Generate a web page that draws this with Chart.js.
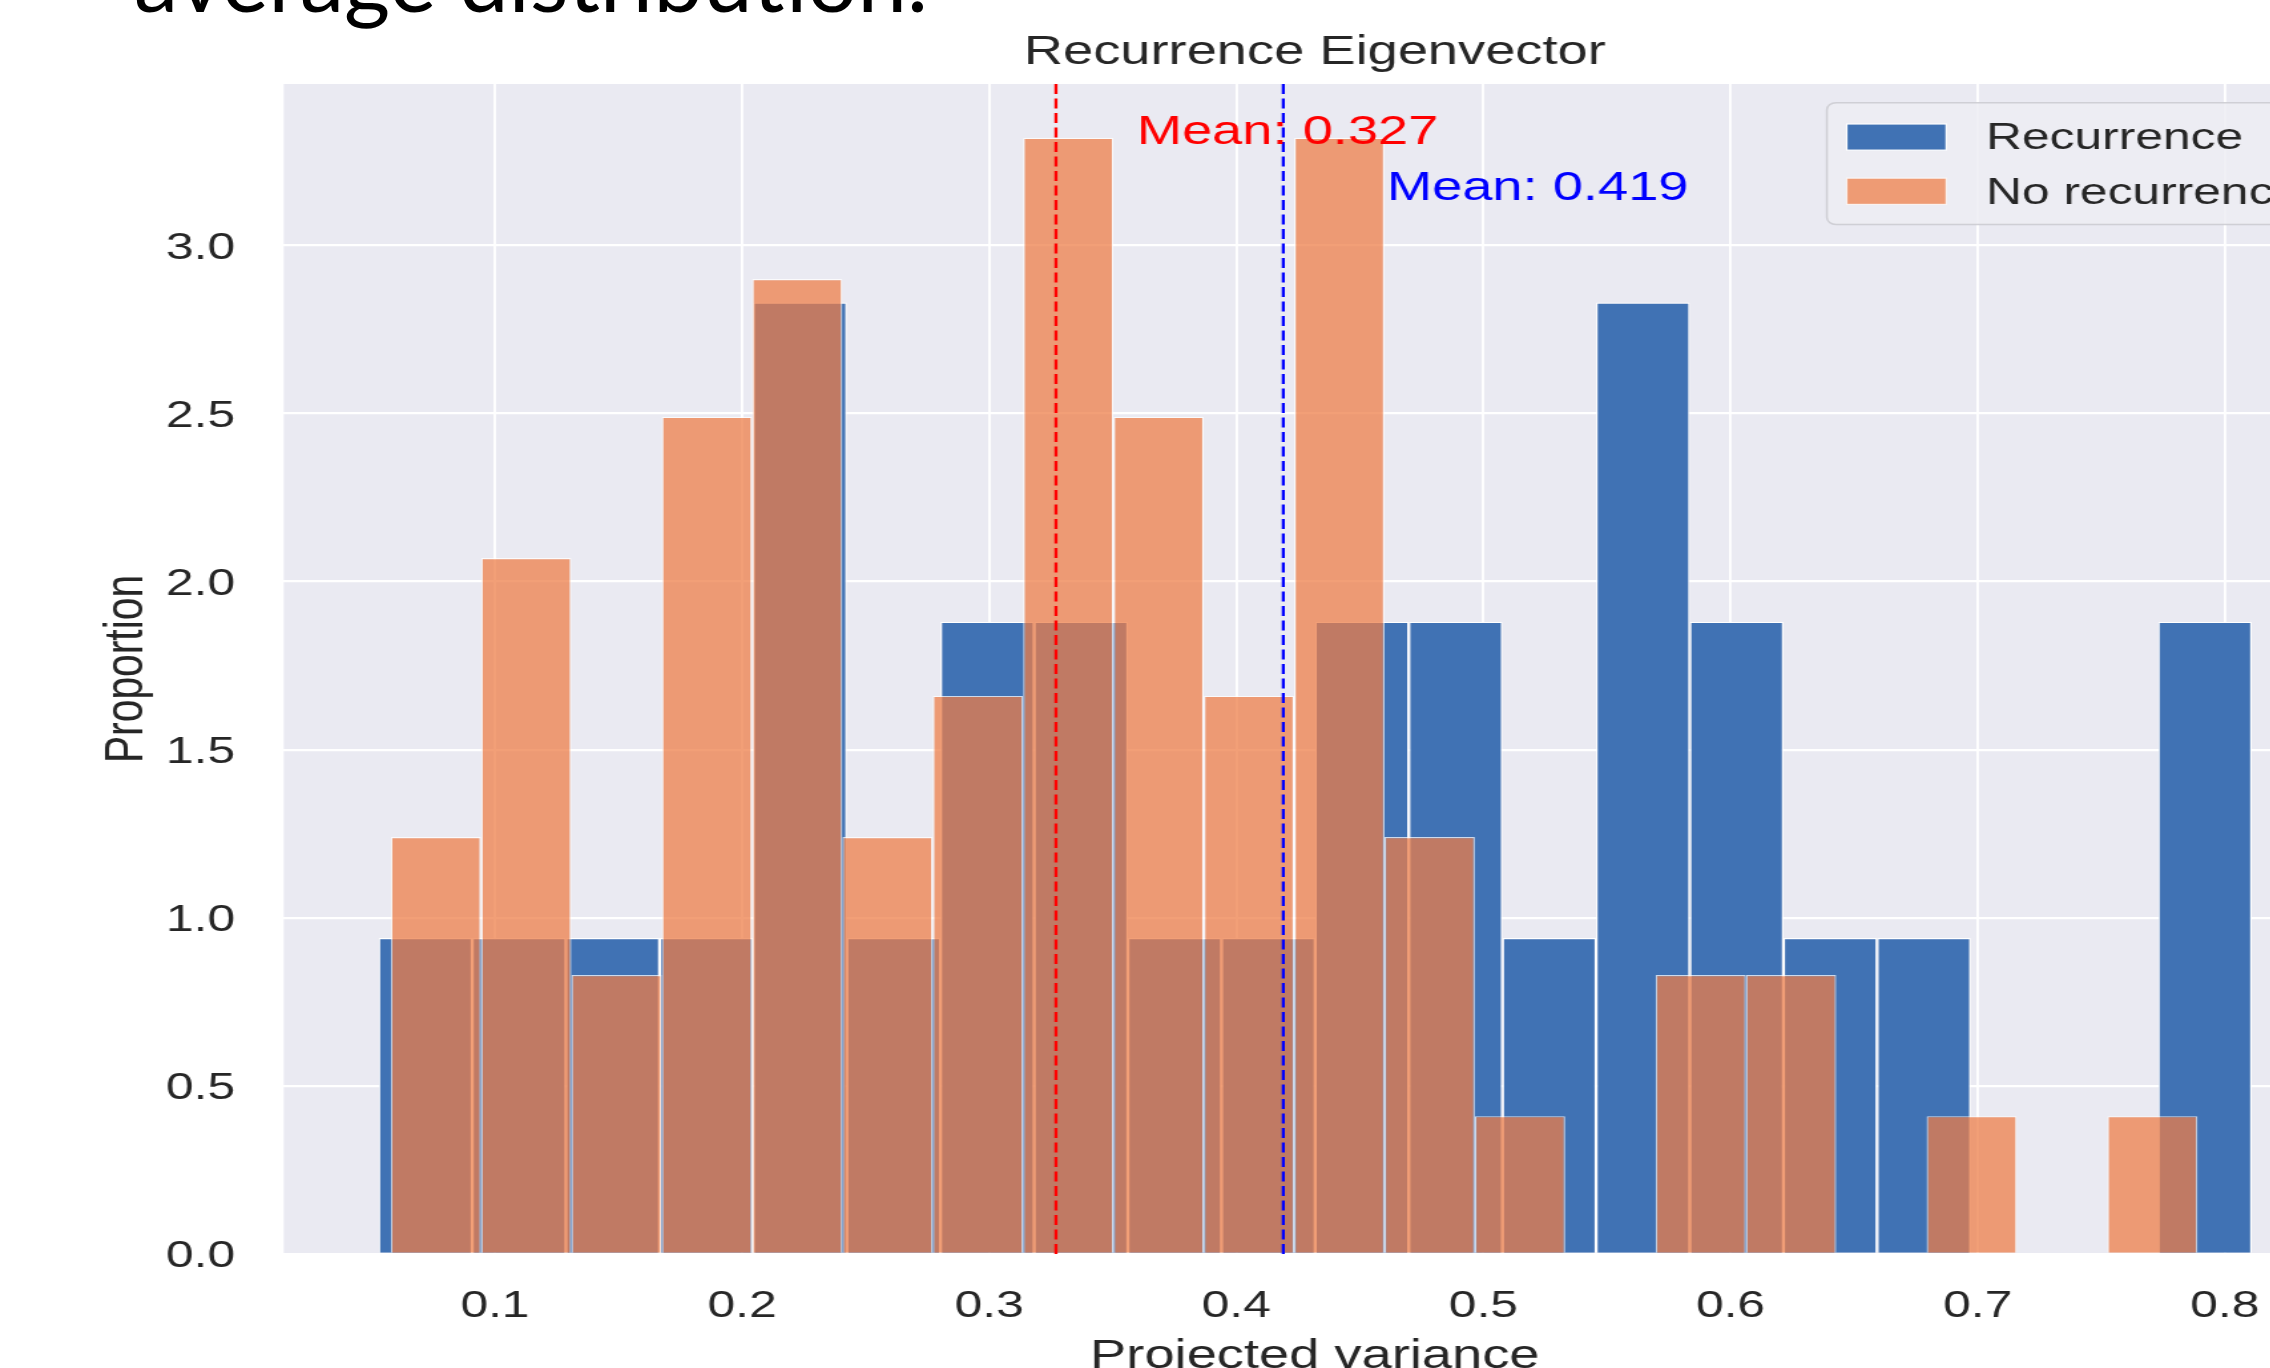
<!DOCTYPE html>
<html>
<head>
<meta charset="utf-8">
<title>Recurrence Eigenvector</title>
<script src="https://cdn.jsdelivr.net/npm/chart.js@4.4.1/dist/chart.umd.min.js"></script>
<style>
  html, body { margin: 0; padding: 0; background: #fff; }
  body { width: 2270px; height: 1368px; overflow: hidden; position: relative; }
  /* the slide shows the figure stretched sideways, so the chart is drawn narrow and widened */
  #stretch { position: absolute; left: 0; top: 0; width: 1804px; height: 1420px; transform: scaleX(1.33); transform-origin: 0 0; }
  #heading { position: absolute; left: 0; top: 0; }
</style>
</head>
<body>
<div id="stretch"><canvas id="chart" width="1804" height="1420"></canvas></div>
<canvas id="heading" width="2270" height="40"></canvas>
<script>
// histogram bin centres and densities
const recurrenceBins = [0.07185, 0.10975, 0.14765, 0.18555, 0.22345, 0.26135, 0.29925, 0.33715, 0.37505, 0.41295,
                        0.45085, 0.48875, 0.52665, 0.56455, 0.60245, 0.64035, 0.67825, 0.71615, 0.75405, 0.79195];
const recurrenceDensity = [0.94, 0.94, 0.94, 0.94, 2.83, 0.94, 1.88, 1.88, 0.94, 0.94,
                           1.88, 1.88, 0.94, 2.83, 1.88, 0.94, 0.94, 0, 0, 1.88];

const noRecurrenceBins = [0.07608, 0.11264, 0.14920, 0.18576, 0.22232, 0.25888, 0.29544, 0.33200, 0.36856, 0.40512,
                          0.44168, 0.47824, 0.51480, 0.55136, 0.58792, 0.62448, 0.66104, 0.69760, 0.73416, 0.77072];
const noRecurrenceDensity = [1.24, 2.07, 0.83, 2.49, 2.90, 1.24, 1.66, 3.32, 2.49, 1.66,
                             3.32, 1.24, 0.41, 0, 0.83, 0.83, 0, 0.41, 0, 0.41];

const seriesNames = ['Recurrence', 'No recurrence'];
const meanValues = [0.419, 0.327];   // recurrence, no recurrence
const meanLabelY = [3.135, 3.30];

const xTicks = [0.1, 0.2, 0.3, 0.4, 0.5, 0.6, 0.7, 0.8];
const yTicks = [0, 0.5, 1.0, 1.5, 2.0, 2.5, 3.0];

const FONT = '"Liberation Sans", Arial, sans-serif';
const TEXT = '#262626';
const meanColors = ['#0000FF', '#FF0000'];

// slide text above the figure, cut by the top edge
const head = document.getElementById('heading').getContext('2d');
const headText = 'average distribution.';
head.font = '100px Lato, "Noto Sans", sans-serif';
const headSize = 100 * 794 / head.measureText(headText).width;
head.font = headSize + 'px Lato, "Noto Sans", sans-serif';
head.fillStyle = '#000';
head.textBaseline = 'alphabetic';
head.fillText(headText, 134, 12);

const toPoints = (xs, ys) => xs.map((x, i) => ({ x: x, y: ys[i] }));

const plotBackground = {
  id: 'plotBackground',
  beforeDraw(chart) {
    const { ctx, chartArea: a } = chart;
    ctx.save();
    ctx.fillStyle = '#EAEAF2';
    ctx.fillRect(a.left, a.top, a.right - a.left, a.bottom - a.top);
    ctx.restore();
  }
};

const meanLines = {
  id: 'meanLines',
  afterDatasetsDraw(chart) {
    const { ctx, chartArea: a, scales: { x, y } } = chart;
    meanValues.forEach((m, i) => {
      const px = x.getPixelForValue(m);
      ctx.save();
      ctx.strokeStyle = meanColors[i];
      ctx.lineWidth = 2.3;
      ctx.setLineDash([10, 4.5]);
      ctx.beginPath();
      ctx.moveTo(px, a.bottom);
      ctx.lineTo(px, a.top);
      ctx.stroke();
      ctx.setLineDash([]);
      ctx.fillStyle = meanColors[i];
      ctx.font = '40.8px ' + FONT;
      ctx.textAlign = 'left';
      ctx.textBaseline = 'alphabetic';
      ctx.fillText('Mean: ' + m.toFixed(3), x.getPixelForValue(m * 1.1), y.getPixelForValue(meanLabelY[i]));
      ctx.restore();
    });
  }
};

// matplotlib style legend in the upper right of the axes
const legendBox = {
  id: 'legendBox',
  afterDraw(chart) {
    const { ctx, chartArea: a } = chart;
    const em = 37.4;
    const sets = chart.data.datasets;
    ctx.save();
    ctx.font = em + 'px ' + FONT;
    const textW = Math.max(...sets.map(d => ctx.measureText(d.label).width));
    const w = 0.4 * em + 2 * em + 0.8 * em + textW + 0.4 * em;
    const h = 3.26 * em;
    const right = a.right - 0.5 * em;
    const top = a.top + 0.5 * em;
    const left = right - w;
    ctx.beginPath();
    ctx.roundRect(left, top, w, h, 7);
    ctx.fillStyle = 'rgba(237,237,243,0.85)';
    ctx.fill();
    ctx.strokeStyle = 'rgba(204,204,210,0.9)';
    ctx.lineWidth = 1.5;
    ctx.stroke();
    sets.forEach((d, i) => {
      const cy = top + 0.92 * em + i * 1.45 * em;
      const hx = left + 0.4 * em;
      ctx.fillStyle = d.backgroundColor;
      ctx.fillRect(hx, cy - 0.35 * em, 2 * em, 0.7 * em);
      ctx.strokeStyle = d.borderColor;
      ctx.lineWidth = 1.2;
      ctx.strokeRect(hx, cy - 0.35 * em, 2 * em, 0.7 * em);
      ctx.fillStyle = TEXT;
      ctx.textAlign = 'left';
      ctx.textBaseline = 'middle';
      ctx.fillText(d.label, hx + 2.8 * em, cy + 2);
    });
    ctx.restore();
  }
};

const fixTicks = values => scale => { scale.ticks = values.map(v => ({ value: v })); };

new Chart(document.getElementById('chart'), {
  type: 'bar',
  data: {
    datasets: [
      {
        label: seriesNames[0],
        data: toPoints(recurrenceBins, recurrenceDensity),
        xAxisID: 'x',
        backgroundColor: '#4072B4',
        borderColor: '#FFFFFF',
        borderWidth: 1.2,
        order: 2
      },
      {
        label: seriesNames[1],
        data: toPoints(noRecurrenceBins, noRecurrenceDensity),
        xAxisID: 'x2',
        backgroundColor: 'rgba(237,125,72,0.74)',
        borderColor: 'rgba(255,255,255,0.74)',
        borderWidth: 1.2,
        order: 1
      }
    ]
  },
  options: {
    responsive: false,
    animation: false,
    events: [],
    datasets: {
      bar: { barPercentage: 1, categoryPercentage: 1, grouped: false, borderSkipped: 'start', inflateAmount: 0 }
    },
    layout: { padding: { left: 0, right: 40.2, top: 0, bottom: 0 } },
    plugins: {
      legend: { display: false },
      tooltip: { enabled: false },
      title: {
        display: true,
        text: 'Recurrence Eigenvector',
        color: TEXT,
        fullSize: false,
        font: { family: FONT, size: 40.8, weight: 'normal', lineHeight: 1.2 },
        padding: { top: 28.7, bottom: 6.3 }
      }
    },
    scales: {
      x: {
        type: 'linear',
        position: 'bottom',
        min: 0.0145,
        max: 0.849,
        offset: false,
        grid: { offset: false, color: '#FFFFFF', lineWidth: 1.9, drawTicks: false },
        border: { display: false },
        ticks: {
          color: TEXT,
          font: { family: FONT, size: 37.4 },
          padding: 30.3,
          maxRotation: 0,
          callback: v => v.toFixed(1)
        },
        title: {
          display: true,
          text: 'Projected variance',
          color: TEXT,
          font: { family: FONT, size: 40.8, lineHeight: 1.2 },
          padding: { top: 0, bottom: 38.5 }
        },
        afterBuildTicks: fixTicks(xTicks),
        afterFit: scale => { scale.height = 166; }
      },
      x2: {
        type: 'linear',
        display: false,
        min: 0.0145,
        max: 0.849,
        offset: false,
        grid: { offset: false },
        afterBuildTicks: fixTicks(xTicks)
      },
      y: {
        type: 'linear',
        min: 0,
        max: 3.48,
        grid: { color: '#FFFFFF', lineWidth: 2.3, drawTicks: false },
        border: { display: false },
        ticks: {
          color: TEXT,
          font: { family: FONT, size: 37.4 },
          padding: 36.6,
          labelOffset: 3,
          callback: v => v.toFixed(1)
        },
        title: {
          display: true,
          text: 'Proportion',
          color: TEXT,
          font: { family: FONT, size: 40.8, lineHeight: 1.2 },
          padding: { top: 71, bottom: 0 }
        },
        afterBuildTicks: fixTicks(yTicks),
        afterFit: scale => { scale.width = 213.3; }
      }
    }
  },
  plugins: [plotBackground, meanLines, legendBox]
});
</script>
</body>
</html>
